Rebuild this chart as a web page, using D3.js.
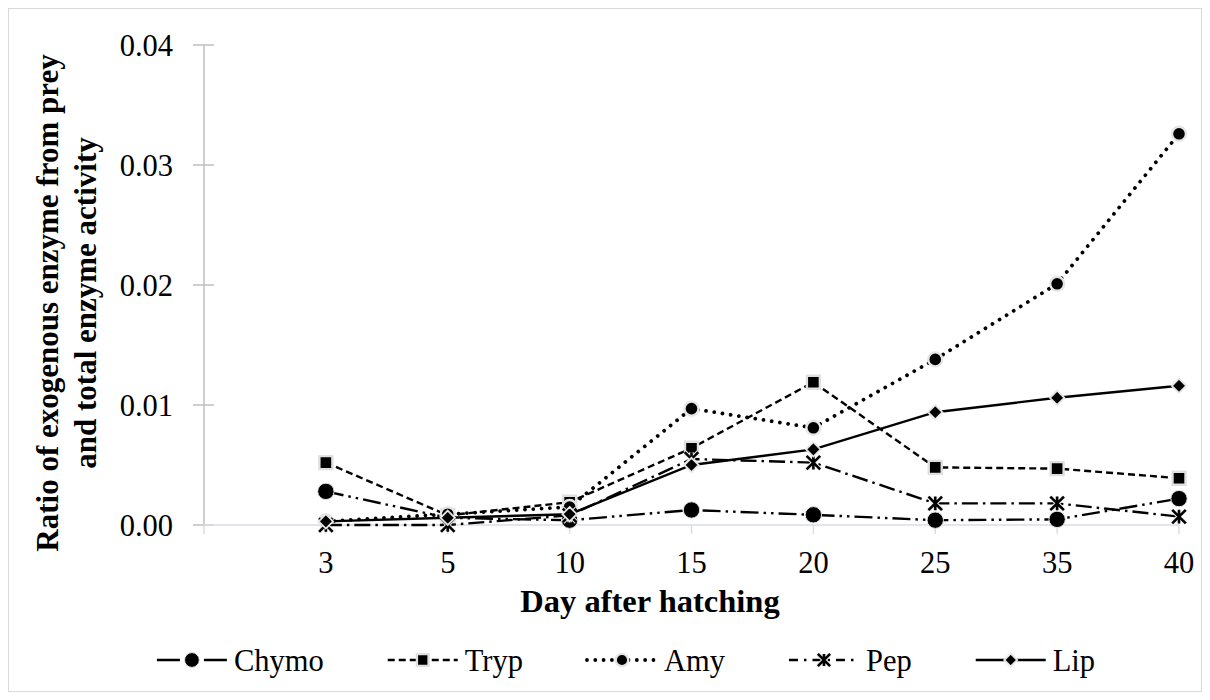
<!DOCTYPE html>
<html>
<head>
<meta charset="utf-8">
<script src="https://cdn.jsdelivr.net/npm/d3@7"></script>
<style>
  html, body { margin: 0; padding: 0; background: #fff; }
  svg { display: block; }
</style>
</head>
<body>
<svg id="chart" width="1210" height="700"></svg>
<script>
// Sampling days (first slot is the empty category at the value axis)
const days = ["", "3", "5", "10", "15", "20", "25", "35", "40"];
const sampleDays = ["3", "5", "10", "15", "20", "25", "35", "40"];

// Ratio of exogenous (prey) enzyme to total enzyme activity
const chymo = [0.0028, 0.0006, 0.0004, 0.00125, 0.00085, 0.0004, 0.00047, 0.0022];
const tryp  = [0.0052, 0.0008, 0.0019, 0.0064, 0.0119, 0.0048, 0.0047, 0.0039];
const amy   = [0.0003, 0.0009, 0.0015, 0.0097, 0.0081, 0.0138, 0.0201, 0.0326];
const pep   = [0.0000, 0.0000, 0.0008, 0.0055, 0.0052, 0.0018, 0.0018, 0.0007];
const lip   = [0.0003, 0.0006, 0.0009, 0.0050, 0.0063, 0.0094, 0.0106, 0.0116];

const seriesNames = ["Chymo", "Tryp", "Amy", "Pep", "Lip"];
const yTicks = [0, 0.01, 0.02, 0.03, 0.04];

const FONT = '"Liberation Serif", "Times New Roman", serif';
const svg = d3.select("#chart");

// chart border
svg.append("rect")
  .attr("x", 8.5).attr("y", 8.5)
  .attr("width", 1193).attr("height", 683)
  .attr("fill", "#fff").attr("stroke", "#d9d9d9").attr("stroke-width", 1);

const x = d3.scalePoint().domain(days).range([204, 1179]);
const y = d3.scaleLinear().domain([0, 0.04]).range([525, 45]);

// value axis
const yAxis = svg.append("g").attr("transform", `translate(${x("")},0)`);
yAxis.append("line")
  .attr("x1", 0).attr("x2", 0)
  .attr("y1", y(0.04)).attr("y2", y(0))
  .attr("stroke", "#bfbfbf").attr("stroke-width", 1.5);
yAxis.selectAll("line.tick").data(yTicks).join("line")
  .attr("class", "tick")
  .attr("x1", -11).attr("x2", 10)
  .attr("y1", d => y(d)).attr("y2", d => y(d))
  .attr("stroke", "#bfbfbf").attr("stroke-width", 1.5);
yAxis.selectAll("text").data(yTicks).join("text")
  .attr("x", -31)
  .attr("y", d => y(d) + 10.5)
  .attr("text-anchor", "end")
  .style("font-family", FONT)
  .attr("font-size", 30.5)
  .text(d3.format(".2f"));

// category axis
const xAxis = svg.append("g").attr("transform", `translate(0,${y(0)})`);
xAxis.append("line")
  .attr("x1", x("")).attr("x2", x("40"))
  .attr("y1", 0).attr("y2", 0)
  .attr("stroke", "#d9dde6").attr("stroke-width", 1.5);
xAxis.selectAll("line.tick").data(days).join("line")
  .attr("class", "tick")
  .attr("x1", d => x(d)).attr("x2", d => x(d))
  .attr("y1", 0).attr("y2", 9)
  .attr("stroke", "#d9dde6").attr("stroke-width", 1.5);
xAxis.selectAll("text").data(days).join("text")
  .attr("x", d => x(d))
  .attr("y", 48)
  .attr("text-anchor", "middle")
  .style("font-family", FONT)
  .attr("font-size", 30.5)
  .text(d => d);

// axis titles
svg.append("text")
  .attr("x", 650).attr("y", 612)
  .attr("text-anchor", "middle")
  .style("font-family", FONT)
  .attr("font-size", 32.5).attr("font-weight", "bold")
  .text("Day after hatching");

const yTitle = svg.append("text")
  .attr("transform", "translate(58,303) rotate(-90)")
  .attr("text-anchor", "middle")
  .style("font-family", FONT)
  .attr("font-size", 31).attr("font-weight", "bold");
yTitle.append("tspan").attr("x", 0).attr("dy", 0).text("Ratio of exogenous enzyme from prey");
yTitle.append("tspan").attr("x", 0).attr("dy", 38).text("and total enzyme activity");

// marker shapes
const circlePath = r => d3.symbol(d3.symbolCircle, Math.PI * r * r)();
const squarePath = s => d3.symbol(d3.symbolSquare, s * s)();
const diamondPath = s => `M0,${-s}L${s},0L0,${s}L${-s},0Z`;
const starPath = s => `M${-s},${-s}L${s},${s}M${-s},${s}L${s},${-s}M0,${-s}L0,${s}`;

const styles = {
  Chymo: { dash: "18 5 2.5 5 2.5 5", cap: "butt", width: 2.4,
           marker: (g, k) => g.append("path").attr("d", circlePath(8.2 * k)).attr("fill", "#000")
                         .attr("stroke", "#e6e6e6").attr("stroke-width", 1) },
  Tryp:  { dash: "7 4", cap: "butt", width: 2.4,
           marker: (g, k) => g.append("path").attr("d", squarePath(13 * k)).attr("fill", "#000")
                         .attr("stroke", "#e0e0e0").attr("stroke-width", 2.4) },
  Amy:   { dash: "0.01 8.3", cap: "round", width: 3.8,
           marker: (g, k) => g.append("path").attr("d", circlePath(7 * k)).attr("fill", "#000")
                         .attr("stroke", "#e6e6e6").attr("stroke-width", 2.4) },
  Pep:   { dash: "16 5 2.5 5", cap: "butt", width: 2.4,
           marker: (g, k) => {
             g.append("path").attr("d", starPath(6.8 * k)).attr("fill", "none")
               .attr("stroke", "#f2f2f2").attr("stroke-width", 4.5);
             g.append("path").attr("d", starPath(6.8 * k)).attr("fill", "none")
               .attr("stroke", "#000").attr("stroke-width", 2.6);
           } },
  Lip:   { dash: null, cap: "butt", width: 2.4,
           marker: (g, k) => g.append("path").attr("d", diamondPath(7.2 * k)).attr("fill", "#000")
                         .attr("stroke", "#e6e6e6").attr("stroke-width", 1.8) }
};

const seriesValues = [chymo, tryp, amy, pep, lip];
const line = d3.line().x(d => x(d.day)).y(d => y(d.v));

const plot = svg.append("g");
seriesNames.forEach((name, i) => {
  const st = styles[name];
  const pts = sampleDays.map((day, j) => ({ day, v: seriesValues[i][j] }));
  const g = plot.append("g");
  g.append("path")
    .datum(pts)
    .attr("d", line)
    .attr("fill", "none")
    .attr("stroke", "#000")
    .attr("stroke-width", st.width)
    .attr("stroke-linecap", st.cap)
    .attr("stroke-dasharray", st.dash);
  pts.forEach(p => {
    const m = g.append("g").attr("transform", `translate(${x(p.day)},${y(p.v)})`);
    st.marker(m, 1);
  });
});

// legend
const legend = svg.append("g");
const symW = 70, textGap = 7, itemGap = 64, legY = 660;
let cursor = 0;
seriesNames.forEach(name => {
  const st = styles[name];
  const item = legend.append("g").attr("transform", `translate(${cursor},0)`);
  item.append("line")
    .attr("x1", 0).attr("x2", symW)
    .attr("y1", 0).attr("y2", 0)
    .attr("stroke", "#000")
    .attr("stroke-width", st.width)
    .attr("stroke-linecap", st.cap)
    .attr("stroke-dasharray", name === "Chymo" ? "23 24" : name === "Pep" ? "9 6 2.5 6" : st.dash);
  const m = item.append("g").attr("transform", `translate(${symW / 2},0)`);
  st.marker(m, 0.9);
  const t = item.append("text")
    .attr("x", symW + textGap)
    .attr("y", 10.5)
    .style("font-family", FONT)
    .attr("font-size", 30.5)
    .text(name);
  cursor += symW + textGap + t.node().getComputedTextLength() + itemGap;
});
const legendWidth = cursor - itemGap;
legend.attr("transform", `translate(${626 - legendWidth / 2},${legY})`);
</script>
</body>
</html>
